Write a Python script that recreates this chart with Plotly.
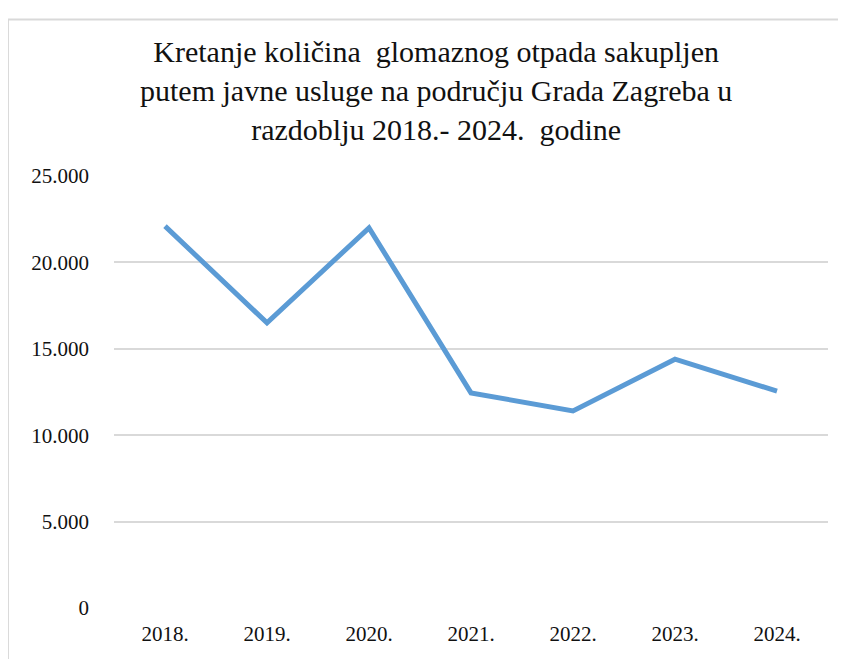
import plotly.graph_objects as go

years = ["2018.", "2019.", "2020.", "2021.", "2022.", "2023.", "2024."]
values = [22100, 16500, 22000, 12450, 11400, 14400, 12550]
y_ticks = [0, 5000, 10000, 15000, 20000, 25000]

title_text = ("Kretanje količina  glomaznog otpada sakupljen<br>"
              "putem javne usluge na području Grada Zagreba u<br>"
              "razdoblju 2018.- 2024.  godine")

serif = "'Liberation Serif', 'Times New Roman', serif"

fig = go.Figure()
fig.add_trace(go.Scatter(
    x=years, y=values, mode="lines",
    line=dict(color="#5B9BD5", width=5),
    hoverinfo="skip", showlegend=False,
))

fig.update_layout(
    width=838, height=651,
    margin=dict(l=106, r=18, t=168, b=51),
    paper_bgcolor="white", plot_bgcolor="white",
    separators=",.",
    font=dict(family=serif, color="#111111"),
    annotations=[dict(text=title_text, xref="paper", yref="paper",
                      x=0.451, y=1.197, xanchor="center", yanchor="middle",
                      showarrow=False, align="center",
                      font=dict(family=serif, size=30, color="#111111"))],
    shapes=[dict(type="rect", xref="paper", yref="paper",
                 x0=-0.1485, x1=1.2, y0=-0.3, y1=1.362,
                 line=dict(color="#d9d9d9", width=2), fillcolor="rgba(0,0,0,0)",
                 layer="below")],
)

fig.update_xaxes(
    type="category", range=[-0.5, 6.5],
    showgrid=False, zeroline=False, showline=False,
    ticks="", tickfont=dict(family=serif, size=21, color="#111111"),
    ticklabelstandoff=11,
)
fig.update_yaxes(
    range=[0, 25000], tickvals=y_ticks, tickformat=",d",
    showgrid=True, gridcolor="#d9d9d9", gridwidth=2,
    zeroline=False, showline=False, ticks="",
    tickfont=dict(family=serif, size=21, color="#111111"),
    ticklabelstandoff=24,
)

fig.write_html("out.html")
